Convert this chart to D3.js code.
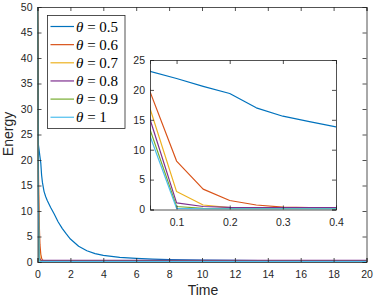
<!DOCTYPE html>
<html>
<head>
<meta charset="utf-8">
<script src="https://cdn.jsdelivr.net/npm/d3@7"></script>
<style>
  body { margin: 0; background: #fff; }
  svg text { font-family: "Liberation Sans", Arial, sans-serif; fill: #262626; }
  .leg text { font-family: "Liberation Serif", "DejaVu Serif", serif; fill: #000; }
</style>
</head>
<body>
<svg id="chart" width="374" height="299"></svg>
<script>
// data
const thetas = ['0.5', '0.6', '0.7', '0.8', '0.9', '1'];
const colors = ['#0072BD', '#D95319', '#EDB120', '#7E2F8E', '#77AC30', '#4DBEEE'];

const times = [0, 0.05, 0.1, 0.15, 0.2, 0.25, 0.3, 0.35, 0.4, 0.5, 0.6, 0.8, 1, 1.25, 1.5, 1.75, 2, 2.5, 3, 3.5, 4, 5, 6, 7, 8, 10, 12, 15, 20];
const e05 = [50, 23.1, 21.9, 20.6, 19.4, 17.0, 15.6, 14.7, 13.8, 12.8, 12.0, 10.7, 9.5, 7.9, 6.6, 5.5, 4.5, 3.1, 2.2, 1.65, 1.3, 0.9, 0.7, 0.55, 0.45, 0.35, 0.3, 0.25, 0.2];
const e06 = [50, 19.7, 8.1, 3.4, 1.5, 0.75, 0.4, 0.3, 0.25, 0.22, 0.2, 0.2, 0.2, 0.2, 0.2, 0.2, 0.2, 0.2, 0.2, 0.2, 0.2, 0.2, 0.2, 0.2, 0.2, 0.2, 0.2, 0.2, 0.2];
const e07 = [50, 16.9, 3.0, 0.75, 0.3, 0.25, 0.22, 0.2, 0.2, 0.2, 0.2, 0.2, 0.2, 0.2, 0.2, 0.2, 0.2, 0.2, 0.2, 0.2, 0.2, 0.2, 0.2, 0.2, 0.2, 0.2, 0.2, 0.2, 0.2];
const e08 = [50, 15.1, 1.1, 0.5, 0.35, 0.3, 0.3, 0.3, 0.3, 0.3, 0.3, 0.3, 0.3, 0.3, 0.3, 0.3, 0.3, 0.3, 0.3, 0.3, 0.3, 0.3, 0.3, 0.3, 0.3, 0.3, 0.3, 0.3, 0.3];
const e09 = [50, 13.4, 0.5, 0.2, 0.15, 0.15, 0.15, 0.15, 0.15, 0.15, 0.15, 0.15, 0.15, 0.15, 0.15, 0.15, 0.15, 0.15, 0.15, 0.15, 0.15, 0.15, 0.15, 0.15, 0.15, 0.15, 0.15, 0.15, 0.15];
const e10 = [50, 12.3, 0.2, 0.1, 0.1, 0.1, 0.1, 0.1, 0.1, 0.1, 0.1, 0.1, 0.1, 0.1, 0.1, 0.1, 0.1, 0.1, 0.1, 0.1, 0.1, 0.1, 0.1, 0.1, 0.1, 0.1, 0.1, 0.1, 0.1];
const series = [e05, e06, e07, e08, e09, e10];

const mainXTicks = [0, 2, 4, 6, 8, 10, 12, 14, 16, 18, 20];
const mainYTicks = [0, 5, 10, 15, 20, 25, 30, 35, 40, 45, 50];
const insetXTicks = [0.1, 0.2, 0.3, 0.4];
const insetYTicks = [0, 5, 10, 15, 20, 25];

const svg = d3.select('#chart');
const axisColor = '#262626';

function drawAxes(g, x, y, xTicks, yTicks, fmtX, clipId) {
    const [x0, x1] = x.range();
    const [y0, y1] = y.range();

    g.append('clipPath').attr('id', clipId)
        .append('rect').attr('x', x0).attr('y', y1).attr('width', x1 - x0).attr('height', y0 - y1);
    g.append('rect').attr('x', x0).attr('y', y1).attr('width', x1 - x0).attr('height', y0 - y1).attr('fill', '#fff');

    const lines = g.append('g').attr('clip-path', `url(#${clipId})`);
    series.forEach((s, i) => {
        const line = d3.line().x((d, j) => x(times[j])).y(d => y(d));
        lines.append('path')
            .datum(s)
            .attr('d', line)
            .attr('fill', 'none')
            .attr('stroke', colors[i])
            .attr('stroke-width', 1.2)
            .attr('stroke-linejoin', 'round');
    });

    // axes, matlab style: inward ticks + box
    const tickLen = 4;
    const bottom = g.append('g').attr('transform', `translate(0,${y0})`)
        .call(d3.axisBottom(x).tickValues(xTicks).tickSize(-tickLen).tickPadding(9).tickFormat(fmtX));
    const top = g.append('g').attr('transform', `translate(0,${y1})`)
        .call(d3.axisTop(x).tickValues(xTicks).tickSize(-tickLen).tickFormat(''));
    const left = g.append('g').attr('transform', `translate(${x0},0)`)
        .call(d3.axisLeft(y).tickValues(yTicks).tickSize(-tickLen).tickPadding(5));
    const right = g.append('g').attr('transform', `translate(${x1},0)`)
        .call(d3.axisRight(y).tickValues(yTicks).tickSize(-tickLen).tickFormat(''));
    [bottom, top, left, right].forEach(a => {
        a.selectAll('path').attr('stroke', axisColor).attr('stroke-width', 0.8);
        a.selectAll('line').attr('stroke', axisColor).attr('stroke-width', 0.8);
        a.selectAll('text').attr('font-size', 10.5).attr('fill', axisColor)
            .style('font-family', '"Liberation Sans", Arial, sans-serif');
    });
}

// main axes
const x = d3.scaleLinear().domain([0, 20]).range([37.5, 366.5]);
const y = d3.scaleLinear().domain([0, 50]).range([262, 7]);
drawAxes(svg.append('g'), x, y, mainXTicks, mainYTicks, d3.format('d'), 'clipMain');

svg.append('text').attr('x', 203).attr('y', 295)
    .attr('text-anchor', 'middle').attr('font-size', 14).text('Time');
svg.append('text')
    .attr('transform', 'translate(13,134) rotate(-90)')
    .attr('text-anchor', 'middle').attr('font-size', 14).text('Energy');

// legend
const leg = svg.append('g').attr('class', 'leg');
leg.append('rect').attr('x', 47.5).attr('y', 15.5).attr('width', 77.5).attr('height', 113)
    .attr('fill', '#fff').attr('stroke', axisColor).attr('stroke-width', 0.8);
thetas.forEach((t, i) => {
    const ly = 26.5 + i * 18.15;
    leg.append('line').attr('x1', 50.5).attr('x2', 74).attr('y1', ly).attr('y2', ly)
        .attr('stroke', colors[i]).attr('stroke-width', 1.2);
    const tx = leg.append('text').attr('x', 76).attr('y', ly + 5).attr('font-size', 15);
    tx.append('tspan').attr('font-style', 'italic').text('θ');
    tx.append('tspan').text(' = ' + t);
});

// inset
const xi = d3.scaleLinear().domain([0.05, 0.4]).range([150, 336]);
const yi = d3.scaleLinear().domain([0, 25]).range([209.5, 60]);
drawAxes(svg.append('g'), xi, yi, insetXTicks, insetYTicks, d3.format('.1f'), 'clipInset');
</script>
</body>
</html>
